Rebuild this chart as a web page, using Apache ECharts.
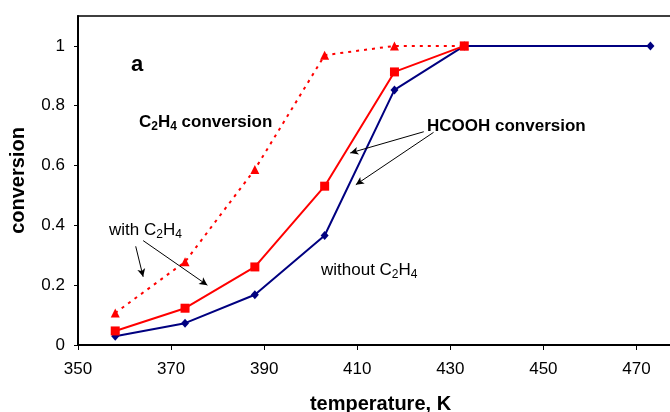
<!DOCTYPE html>
<html>
<head>
<meta charset="utf-8">
<script src="https://cdn.jsdelivr.net/npm/echarts@6/dist/echarts.min.js"></script>
<style>html,body{margin:0;padding:0;background:#fff;}#c{width:670px;height:412px;}</style>
</head>
<body>
<div id="c"></div>
<script>
var tempsWith = [358, 373, 388, 403, 418, 433];
var tempsWithout = [358, 373, 388, 403, 418, 433, 473];
var hcoohWithout = [0.029, 0.073, 0.168, 0.366, 0.853, 1.0, 1.0];
var hcoohWith = [0.047, 0.123, 0.261, 0.531, 0.913, 1.0];
var c2h4Conversion = [0.107, 0.278, 0.587, 0.969, 1.0, 1.0];
var xTicks = [350, 370, 390, 410, 430, 450, 470];
var yTicks = [0, 0.2, 0.4, 0.6, 0.8, 1];
// annotation arrows in data coordinates: [x1, y1, x2, y2]
var arrows = [
  [424.3, 0.713, 408.5, 0.642],
  [426.4, 0.711, 409.7, 0.536],
  [362.4, 0.330, 364.0, 0.228],
  [364.0, 0.349, 377.8, 0.200]
];

function pairs(xs, ys) { return xs.map(function (x, i) { return [x, ys[i]]; }); }

var FONT = 'Liberation Sans, Arial, sans-serif';
var chart = echarts.init(document.getElementById('c'), null, {renderer: 'canvas'});

var subRich = function (weight) {
  return {
    m: {fontSize: 17, fontWeight: weight, fontFamily: FONT, color: '#000', lineHeight: 20},
    s: {fontSize: 12, fontWeight: weight, fontFamily: FONT, color: '#000', lineHeight: 12, verticalAlign: 'bottom'}
  };
};

chart.setOption({
  animation: false,
  backgroundColor: '#fff',
  grid: {left: 78, right: -13, top: 16, bottom: 67, show: true, borderColor: '#000', borderWidth: 1.5,
         containLabel: false, outerBoundsMode: 'none'},
  xAxis: {
    type: 'value', min: 350, max: 480, interval: 10,
    name: 'temperature, K', nameLocation: 'middle', nameGap: 49,
    nameTextStyle: {fontSize: 20, fontWeight: 'bold', fontFamily: FONT, color: '#000'},
    axisLine: {lineStyle: {color: '#000', width: 2}},
    axisTick: {show: true, length: 5, lineStyle: {color: '#000', width: 1}, customValues: xTicks},
    axisLabel: {fontSize: 17, fontFamily: FONT, color: '#000', margin: 16, customValues: xTicks},
    splitLine: {show: false}
  },
  yAxis: {
    type: 'value', min: 0, max: 1.1, interval: 0.1,
    name: 'conversion', nameLocation: 'middle', nameGap: 50, nameRotate: 90,
    nameTextStyle: {fontSize: 20, fontWeight: 'bold', fontFamily: FONT, color: '#000'},
    axisLine: {show: true, lineStyle: {color: '#000', width: 2}},
    axisTick: {show: true, length: 4, lineStyle: {color: '#000', width: 1}, customValues: yTicks},
    axisLabel: {fontSize: 17, fontFamily: FONT, color: '#000', margin: 13, customValues: yTicks},
    splitLine: {show: false}
  },
  series: [
    {
      name: 'C2H4 conversion', type: 'line', data: pairs(tempsWith, c2h4Conversion),
      symbol: 'triangle', symbolSize: 9,
      itemStyle: {color: '#ff0000'},
      lineStyle: {color: '#ff0000', width: 2, type: [3, 5]},
      z: 2
    },
    {
      name: 'HCOOH without C2H4', type: 'line', data: pairs(tempsWithout, hcoohWithout),
      symbol: 'diamond', symbolSize: [8, 9],
      itemStyle: {color: '#000080'},
      lineStyle: {color: '#000080', width: 2},
      z: 3,
      markLine: {
        silent: true, animation: false,
        symbol: ['none', 'arrow'], symbolSize: [6, 8],
        lineStyle: {color: '#000', width: 1, type: 'solid'},
        label: {show: false},
        emphasis: {disabled: true},
        data: arrows.map(function (a) { return [{coord: [a[0], a[1]]}, {coord: [a[2], a[3]]}]; })
      }
    },
    {
      name: 'HCOOH with C2H4', type: 'line', data: pairs(tempsWith, hcoohWith),
      symbol: 'rect', symbolSize: 9,
      itemStyle: {color: '#ff0000'},
      lineStyle: {color: '#ff0000', width: 2},
      z: 4
    }
  ],
  graphic: [
    {type: 'text', left: 131, top: 54, style: {text: 'a', fontSize: 22, fontWeight: 'bold', fontFamily: FONT, fill: '#000'}},
    {type: 'text', x: 139, y: 122.4, style: {text: '{m|C}{s|2}{m|H}{s|4}{m| conversion}', rich: subRich('bold'), verticalAlign: 'middle', align: 'left'}},
    {type: 'text', x: 427, y: 126.3, style: {text: 'HCOOH conversion', fontSize: 17, fontWeight: 'bold', fontFamily: FONT, fill: '#000', verticalAlign: 'middle', align: 'left'}},
    {type: 'text', x: 109, y: 230.7, style: {text: '{m|with C}{s|2}{m|H}{s|4}', rich: subRich('normal'), verticalAlign: 'middle', align: 'left'}},
    {type: 'text', x: 321, y: 270.7, style: {text: '{m|without C}{s|2}{m|H}{s|4}', rich: subRich('normal'), verticalAlign: 'middle', align: 'left'}}
  ]
});
</script>
</body>
</html>
